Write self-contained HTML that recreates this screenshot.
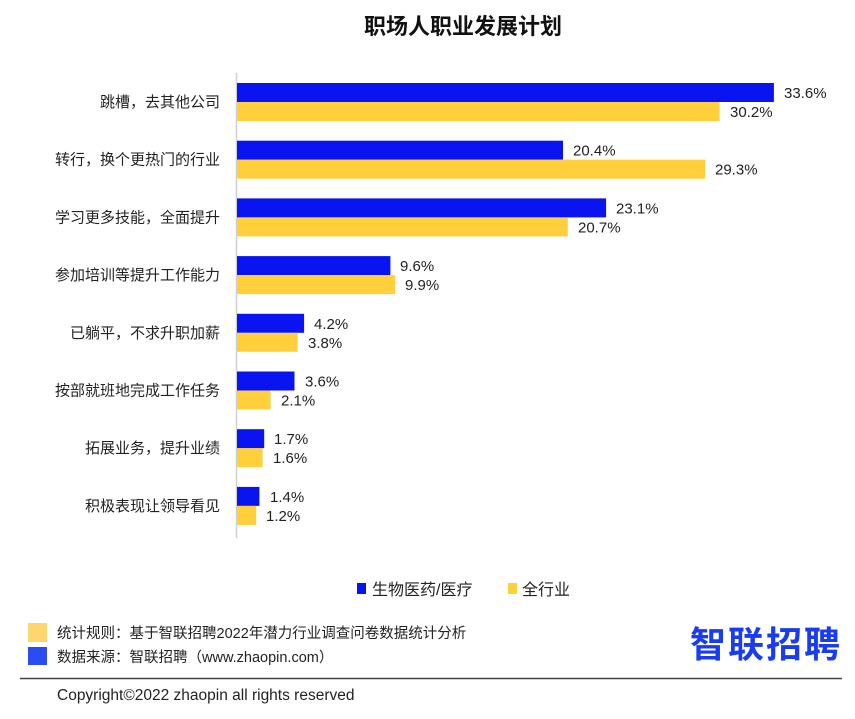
<!DOCTYPE html>
<html><head><meta charset="utf-8"><style>
body{margin:0;width:855px;height:714px;background:#fff;overflow:hidden;}
</style></head><body>
<svg width="855" height="714" xmlns="http://www.w3.org/2000/svg" font-family="Liberation Sans, Noto Sans CJK SC, sans-serif">
<text x="463" y="34" text-anchor="middle" font-size="22" font-weight="bold" fill="#111">职场人职业发展计划</text>
<line x1="236.5" y1="73" x2="236.5" y2="538" stroke="#d0d0d0" stroke-width="1.5"/>
<g font-size="15" fill="#222">
<rect x="237" y="83" width="536.9" height="19" fill="#0a14f0"/><rect x="237" y="102" width="482.6" height="19" fill="#ffd03c"/>
<text x="220" y="107" text-anchor="end">跳槽，去其他公司</text><text x="784" y="98">33.6%</text><text x="730" y="117">30.2%</text>

<rect x="237" y="140.7" width="326" height="19" fill="#0a14f0"/><rect x="237" y="159.7" width="468.2" height="19" fill="#ffd03c"/>
<text x="220" y="164.7" text-anchor="end">转行，换个更热门的行业</text><text x="573" y="155.7">20.4%</text><text x="715" y="174.7">29.3%</text>

<rect x="237" y="198.4" width="369.1" height="19" fill="#0a14f0"/><rect x="237" y="217.4" width="330.8" height="19" fill="#ffd03c"/>
<text x="220" y="222.4" text-anchor="end">学习更多技能，全面提升</text><text x="616" y="213.4">23.1%</text><text x="578" y="232.4">20.7%</text>

<rect x="237" y="256.1" width="153.4" height="19" fill="#0a14f0"/><rect x="237" y="275.1" width="158.2" height="19" fill="#ffd03c"/>
<text x="220" y="280.1" text-anchor="end">参加培训等提升工作能力</text><text x="400" y="271.1">9.6%</text><text x="405" y="290.1">9.9%</text>

<rect x="237" y="313.8" width="67.1" height="19" fill="#0a14f0"/><rect x="237" y="332.8" width="60.7" height="19" fill="#ffd03c"/>
<text x="220" y="337.8" text-anchor="end">已躺平，不求升职加薪</text><text x="314" y="328.8">4.2%</text><text x="308" y="347.8">3.8%</text>

<rect x="237" y="371.5" width="57.5" height="19" fill="#0a14f0"/><rect x="237" y="390.5" width="33.6" height="19" fill="#ffd03c"/>
<text x="220" y="395.5" text-anchor="end">按部就班地完成工作任务</text><text x="305" y="386.5">3.6%</text><text x="281" y="405.5">2.1%</text>

<rect x="237" y="429.2" width="27.2" height="19" fill="#0a14f0"/><rect x="237" y="448.2" width="25.6" height="19" fill="#ffd03c"/>
<text x="220" y="453.2" text-anchor="end">拓展业务，提升业绩</text><text x="274" y="444.2">1.7%</text><text x="273" y="463.2">1.6%</text>

<rect x="237" y="486.9" width="22.4" height="19" fill="#0a14f0"/><rect x="237" y="505.9" width="19.2" height="19" fill="#ffd03c"/>
<text x="220" y="510.9" text-anchor="end">积极表现让领导看见</text><text x="270" y="501.9">1.4%</text><text x="266" y="520.9">1.2%</text>
</g>
<rect x="357" y="583" width="9" height="11" fill="#0a14f0"/>
<text x="372" y="595" font-size="16" fill="#222">生物医药/医疗</text>
<rect x="508" y="583" width="9" height="11" fill="#ffd03c"/>
<text x="522" y="595" font-size="16" fill="#222">全行业</text>
<rect x="28" y="623" width="19" height="19" fill="#ffd66e"/>
<rect x="28" y="647" width="19" height="18" fill="#2a4cf5"/>
<text x="57" y="638" font-size="14.5" fill="#222">统计规则：基于智联招聘2022年潜力行业调查问卷数据统计分析</text>
<text x="57" y="662" font-size="14.5" fill="#222">数据来源：智联招聘（www.zhaopin.com）</text>
<text x="690" y="657" font-size="36" font-weight="bold" fill="#1a3cf0" textLength="150">智联招聘</text>
<line x1="20" y1="678.5" x2="842" y2="678.5" stroke="#444" stroke-width="1.5"/>
<text x="57" y="700" font-size="15.5" fill="#222">Copyright©2022 zhaopin all rights reserved</text>
</svg>
</body></html>
